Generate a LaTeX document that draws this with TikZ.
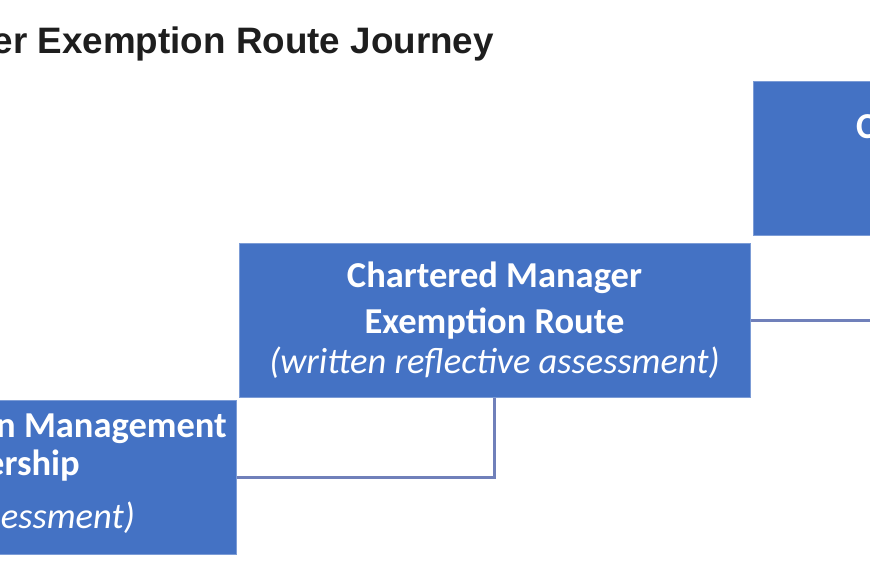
\documentclass[tikz,border=0pt]{standalone}
\usepackage{fontspec}
\setmainfont{Carlito}
\newfontfamily\titlefont{Liberation Sans}
\usetikzlibrary{positioning}

\definecolor{stageblue}{HTML}{4472C4}
\definecolor{linkblue}{HTML}{7080BA}
\definecolor{titleink}{HTML}{1E1E1E}

\begin{document}
\begin{tikzpicture}[x=1pt,y=-1pt,
    stagebox/.style={fill=stageblue, draw=stageblue!70!white, line width=1pt,
        minimum width=511pt, minimum height=154pt, inner sep=0pt,
        text=white, align=center, font=\fontsize{36.5}{46}\selectfont\bfseries},
    boxtext/.style={text=white, inner sep=0pt, font=\fontsize{36.5}{46}\selectfont\bfseries},
    boxnote/.style={text=white, inner sep=0pt, font=\fontsize{36.5}{46}\selectfont\itshape},
    elbow/.style={draw=linkblue, line width=3pt}]
    \useasboundingbox (0,0) rectangle (870,570);
    \clip (0,0) rectangle (870,570);

    % Title
    \node[anchor=base east, inner sep=0pt, text=titleink,
          font=\titlefont\fontsize{36.8}{40}\selectfont\bfseries] (title) at (494,53)
        {er Exemption Route Journey};

    % Stages of the route
    \node[stagebox] (topbox) at (1008.5,158) {};
    \node[boxtext, anchor=base west] (toptext) at (856,138) {C};

    \node[stagebox] (midbox) at (494.5,320)
        {Chartered Manager\\ Exemption Route\\[-6pt]
         \mdseries\itshape (written reflective assessment)};

    \node[stagebox] (lowbox) at (-19.5,477.5) {};
    \node[boxtext, anchor=base east] (lowline1) at (227,437) {n Management};
    \node[boxtext, anchor=base east] (lowline2) at (80,475) {ership};
    \node[boxnote, anchor=base east] (lowline3) at (135,528) {essment)};

    % Connectors
    \draw[elbow] (midbox.south) |- (lowbox.east);
    \draw[elbow] (topbox.south) |- (midbox.east);
\end{tikzpicture}
\end{document}
